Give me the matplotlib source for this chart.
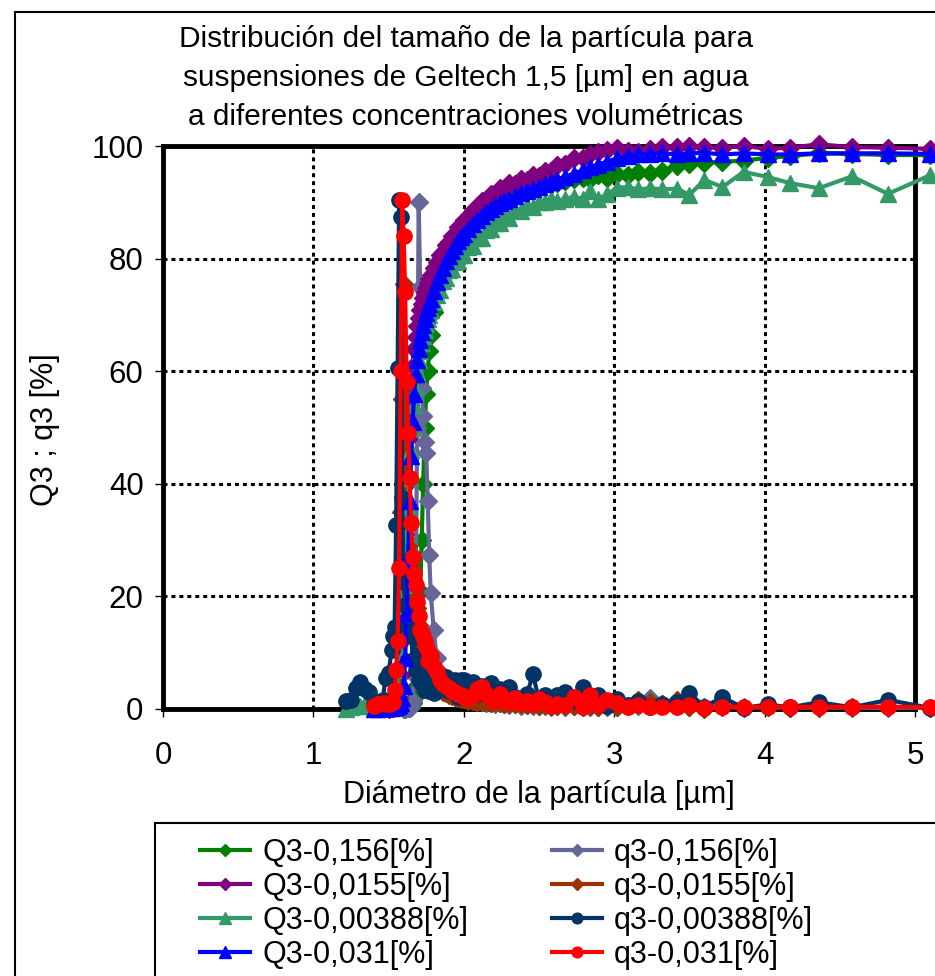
import numpy as np
import matplotlib
matplotlib.use('Agg')
import matplotlib.pyplot as plt
from matplotlib.patches import Rectangle

plt.rcParams['font.family'] = ['Liberation Sans', 'DejaVu Sans']

NA = np.nan

# diámetro de partícula [µm] (rejilla común de medida)
diametro = [1.22, 1.25, 1.28, 1.31, 1.34, 1.37, 1.40, 1.43, 1.46, 1.48,
            1.50, 1.52, 1.53, 1.54, 1.55, 1.56, 1.57, 1.58, 1.59, 1.60,
            1.61, 1.62, 1.63, 1.64, 1.65, 1.66, 1.67, 1.68, 1.69, 1.70,
            1.71, 1.72, 1.73, 1.74, 1.75, 1.76, 1.77, 1.78, 1.80, 1.82,
            1.84, 1.86, 1.88, 1.90, 1.92, 1.94, 1.96, 1.98, 2.00, 2.03,
            2.06, 2.09, 2.12, 2.15, 2.18, 2.21, 2.24, 2.27, 2.30, 2.34,
            2.38, 2.42, 2.46, 2.50, 2.54, 2.58, 2.62, 2.67, 2.73, 2.79,
            2.84, 2.89, 2.95, 3.02, 3.09, 3.16, 3.24, 3.32, 3.42, 3.50,
            3.60, 3.72, 3.86, 4.02, 4.17, 4.36, 4.58, 4.82, 5.10]

Q3_0156 = [NA, NA, NA, NA, NA, NA, NA, NA, NA, NA,
           NA, NA, NA, NA, NA, NA, NA, NA, NA, 0.0,
           0.0, 0.1, 0.2, 0.3, 0.6, 1.0, 2.0, 4.0, 8.0, 14.0,
           21.0, 30.0, 40.0, 50.0, 56.0, 60.0, 63.5, 66.5, 70.5, 73.5,
           75.8, 77.8, 79.5, 80.9, 82.1, 83.2, 84.2, 85.0, 85.8, 86.8,
           87.7, 88.5, 89.1, 89.7, 90.2, 90.6, 91.0, 91.3, 91.6, 91.9,
           92.2, 92.5, 92.7, 92.9, 93.1, 93.3, 93.5, 93.8, 94.1, 94.3,
           94.2, 94.9, 94.4, 95.1, 94.8, 95.4, 95.2, 95.6, 96.5, 96.8,
           97.0, 97.2, 97.4, 97.9, 98.2, 98.7, 98.6, 98.4, 98.4]

q3_0156 = [NA, NA, NA, NA, NA, NA, NA, NA, NA, NA,
           NA, NA, NA, NA, NA, NA, NA, NA, NA, 0.0,
           0.0, 0.1, 0.1, 0.2, 0.3, 1.5, 6.0, 20.0, 50.0, 90.0,
           75.0, 57.0, 52.0, 47.5, 45.5, 37.0, 27.4, 20.6, 14.0, 9.0,
           6.5, 5.0, 4.2, 3.5, 3.0, 2.6, 2.2, 2.0, 1.8, 1.6,
           1.5, 1.3, 1.2, 1.1, 1.0, 0.9, 1.0, 0.8, 0.7, 0.8,
           0.6, 0.7, 0.5, 0.6, 0.5, 0.4, 0.6, 0.4, 0.5, 0.3,
           0.4, 0.3, 0.4, 0.3, 0.5, 0.6, 2.0, 0.8, 0.5, 0.4,
           0.3, 0.7, 0.3, 0.4, 0.2, 0.3, 0.2, 0.2, 0.2]

Q3_0155 = [NA, NA, NA, NA, NA, NA, NA, NA, NA, NA,
           0.0, 0.1, 0.2, 0.3, 0.5, 1.0, 2.0, 6.0, 12.0, 21.0,
           31.0, 40.0, 48.0, 54.0, 58.0, 61.0, 64.0, 66.0, 68.0, 69.5,
           70.8, 72.0, 73.0, 74.0, 74.8, 75.6, 76.4, 77.1, 78.3, 79.4,
           80.6, 81.2, 82.5, 82.9, 84.1, 84.3, 85.6, 85.6, 86.8, 87.1,
           88.6, 88.8, 90.2, 90.3, 91.5, 91.5, 92.6, 92.4, 93.4, 93.2,
           94.1, 93.9, 94.8, 94.7, 95.6, 95.6, 96.6, 96.8, 97.8, 97.9,
           98.5, 98.9, 99.3, 99.6, 99.2, 98.9, 99.5, 99.8, 99.9, 100.0,
           99.8, 99.7, 100.0, 99.5, 99.7, 100.3, 99.8, 99.7, 99.5]

q3_0155 = [NA, NA, NA, NA, NA, NA, NA, NA, NA, NA,
           0.2, 0.3, 0.5, 1.0, 2.0, 6.0, 14.0, 35.0, 55.0, 75.5,
           40.0, 34.0, 29.0, 25.6, 24.0, 23.0, 21.5, 20.2, 18.0, 15.0,
           13.5, 12.0, 10.5, 9.2, 8.0, 7.0, 6.2, 5.5, 4.6, 4.0,
           3.5, 3.1, 2.8, 2.5, 2.3, 2.1, 1.9, 1.8, 1.7, 1.5,
           1.4, 1.3, 1.4, 1.2, 1.1, 1.2, 1.0, 0.9, 1.0, 0.8,
           0.9, 0.7, 0.8, 0.6, 0.7, 0.5, 0.6, 0.5, 0.6, 0.4,
           0.5, 0.4, 0.6, 0.3, 0.5, 1.6, 1.2, 0.8, 1.6, 0.4,
           0.0, 0.3, 0.2, 0.3, 0.2, 0.2, 0.3, 0.4, 0.2]

Q3_00388 = [0.0, 0.3, 0.5, 0.6, 0.8, 1.0, 1.2, 1.3, 1.5, 1.6,
            1.8, 2.0, 2.3, 3.0, 4.5, 7.0, 11.0, 16.0, 19.0, 22.0,
            26.0, 31.0, 36.0, 41.0, 46.0, 50.0, 54.0, 57.0, 60.0, 62.0,
            63.5, 65.0, 66.2, 67.3, 68.3, 69.2, 70.0, 70.8, 72.3, 73.6,
            74.5, 76.0, 76.5, 77.9, 78.1, 79.4, 79.5, 80.6, 80.6, 82.0,
            82.3, 83.6, 83.7, 85.0, 85.2, 86.3, 86.3, 87.5, 87.2, 88.6,
            88.5, 89.3, 89.2, 90.0, 90.1, 90.5, 90.2, 90.6, 91.0, 90.6,
            92.0, 90.5, 91.4, 92.6, 92.7, 92.3, 92.5, 92.3, 92.4, 91.3,
            94.0, 92.7, 95.4, 94.5, 93.4, 92.5, 94.6, 91.5, 94.8]

q3_00388 = [1.5, 1.6, 3.8, 4.8, 3.5, 3.0, 0.8, 1.2, 1.6, 5.5,
            6.4, 10.5, 13.0, 14.6, 32.7, 60.6, 90.4, 87.4, 37.5, 22.6,
            18.5, 16.0, 15.3, 17.6, 13.5, 8.7, 12.8, 7.0, 9.5, 5.2,
            8.0, 4.5, 6.8, 3.4, 5.7, 6.4, 3.2, 4.4, 2.8, 4.8,
            3.5, 5.5, 5.7, 3.2, 4.4, 5.2, 2.1, 5.2, 5.2, 3.6,
            4.8, 2.7, 4.0, 3.0, 4.6, 2.5, 3.6, 1.8, 3.9, 2.2,
            1.2, 2.6, 6.2, 1.5, 2.4, 0.8, 2.5, 3.0, 1.5, 3.9,
            1.4, 2.5, 0.5, 1.8, 0.7, 1.5, 0.3, 0.9, 1.2, 2.8,
            0.4, 2.1, 0.2, 0.8, 0.3, 1.2, 0.3, 1.6, 0.2]

Q3_031 = [NA, NA, NA, NA, NA, NA, 0.0, 0.0, 0.1, 0.1,
          0.2, 0.2, 0.3, 0.3, 0.4, 0.5, 0.7, 1.0, 2.0, 4.0,
          9.0, 17.0, 27.0, 37.0, 45.0, 51.0, 56.0, 59.5, 62.0, 64.0,
          65.5, 67.0, 68.2, 69.3, 70.3, 71.2, 72.0, 72.8, 74.3, 75.8,
          77.1, 78.3, 79.5, 80.5, 81.4, 82.3, 83.1, 83.8, 84.4, 85.3,
          86.1, 86.9, 87.6, 88.2, 88.8, 89.3, 89.8, 90.2, 90.6, 91.1,
          91.6, 92.0, 92.4, 92.8, 93.2, 93.6, 94.0, 94.5, 95.1, 95.7,
          96.2, 96.7, 97.2, 97.8, 98.3, 98.5, 98.6, 98.7, 98.5, 98.7,
          98.8, 98.5, 98.7, 98.5, 98.5, 98.7, 98.7, 98.7, 98.6]

q3_031 = [NA, NA, NA, NA, NA, NA, 0.5, 0.8, 1.0, 0.9,
          0.8, 1.0, 1.2, 3.4, 7.0, 12.0, 25.0, 60.0, 90.4, 84.0,
          74.0, 58.0, 49.0, 41.0, 33.0, 27.0, 24.0, 22.0, 19.0, 16.5,
          14.0, 13.5, 12.8, 12.0, 11.0, 8.5, 10.0, 9.5, 7.5, 6.5,
          5.2, 4.5, 4.0, 3.8, 3.2, 3.0, 2.6, 2.4, 2.2, 2.0,
          2.5, 3.5, 3.9, 2.6, 2.0, 1.5, 2.6, 1.8, 1.2, 2.0,
          1.0, 1.5, 0.8, 1.8, 1.2, 0.6, 0.8, 0.7, 2.1, 0.4,
          2.5, 0.7, 1.6, 1.1, 0.4, 0.7, 0.4, 0.4, 0.4, 0.7,
          0.1, 0.4, 0.4, 0.4, 0.4, 0.4, 0.4, 0.4, 0.3]

# (etiqueta, datos, color, marcador, tamaño) en el orden de dibujo de Excel
series = [
    ('Q3-0,156[%]', Q3_0156, '#008000', 'D', 9),
    ('q3-0,156[%]', q3_0156, '#666699', 'D', 9),
    ('Q3-0,0155[%]', Q3_0155, '#800080', 'D', 9),
    ('q3-0,0155[%]', q3_0155, '#993300', 'D', 9),
    ('Q3-0,00388[%]', Q3_00388, '#339966', '^', 12),
    ('q3-0,00388[%]', q3_00388, '#003366', 'o', 11),
    ('Q3-0,031[%]', Q3_031, '#0000FF', '^', 12),
    ('q3-0,031[%]', q3_031, '#FF0000', 'o', 11),
]

W, H = 935, 976
fig = plt.figure(figsize=(W / 100, H / 100), dpi=100)
ax = fig.add_axes([163 / W, 1 - 709 / H, 752 / W, 563 / H])

lines = {}
for label, vals, color, marker, ms in series:
    ln, = ax.plot(diametro, vals, color=color, lw=3, marker=marker, markersize=ms,
                  markeredgecolor=color, label=label, clip_on=False, zorder=3)
    lines[label] = ln

ax.set_xlim(0, 5)
ax.set_ylim(0, 100)
ax.set_xticks([0, 1, 2, 3, 4, 5])
ax.set_yticks([0, 20, 40, 60, 80, 100])
ax.tick_params(axis='both', direction='out', length=6, width=1, labelsize=22.5, color='black')
ax.tick_params(axis='x', pad=17)
ax.tick_params(axis='y', pad=8)
ax.grid(True, color='black', lw=2.2, linestyle=(0, (1.3, 1.3)))
for sp in ax.spines.values():
    sp.set_linewidth(3.5)

ax.set_xlabel('Diámetro de la partícula [µm]', fontsize=22, va='center')
ax.xaxis.set_label_coords(0.5, (709 - 795) / 563)
ax.set_ylabel('Q3 ; q3 [%]', fontsize=22, va='center')
ax.yaxis.set_label_coords((45 - 163) / 752, (709 - 430) / 563)

fig.text(466 / W, 1 - 78 / H,
         'Distribución del tamaño de la partícula para\n'
         'suspensiones de Geltech 1,5 [µm] en agua\n'
         'a diferentes concentraciones volumétricas',
         ha='center', va='center', fontsize=21.4, linespacing=1.5)

# marco del gráfico y del cuadro de leyenda (recortados a la derecha y abajo)
fig.add_artist(Rectangle((15 / W, -0.1), 1.2, 1.1 - 12 / H, transform=fig.transFigure,
                         fill=False, ec='black', lw=1.5))
fig.add_artist(Rectangle((155 / W, -0.1), 1.2, 1.1 - 823 / H, transform=fig.transFigure,
                         fill=False, ec='black', lw=1.5))

order = ['Q3-0,156[%]', 'Q3-0,0155[%]', 'Q3-0,00388[%]', 'Q3-0,031[%]',
         'q3-0,156[%]', 'q3-0,0155[%]', 'q3-0,00388[%]', 'q3-0,031[%]']
leg = fig.legend([lines[k] for k in order], order, ncol=2, loc='upper left',
                 bbox_to_anchor=(200 / W, 1 - 838 / H), frameon=False, fontsize=22,
                 handlelength=1.63, handletextpad=0.4, columnspacing=2.75,
                 labelspacing=0.13, borderpad=0, borderaxespad=0)
for h in leg.legend_handles:
    h.set_markersize(h.get_markersize() * 0.7)

fig.savefig('out.png', dpi=100)
